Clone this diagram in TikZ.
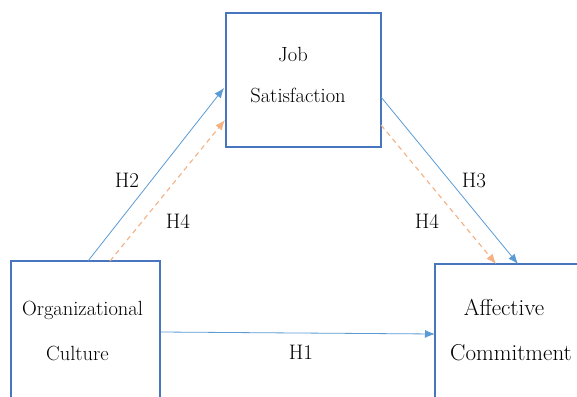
\documentclass[tikz,border=0pt]{standalone}
\usetikzlibrary{arrows.meta}
\definecolor{boxblue}{RGB}{72,118,190}
\definecolor{arrblue}{RGB}{91,155,213}
\definecolor{arrorange}{RGB}{244,177,131}
\definecolor{txt}{RGB}{0,0,0}
\tikzset{
  box/.style={draw=boxblue, line width=1.5pt, inner sep=0pt},
  solidarr/.style={draw=arrblue, line width=0.8pt, -{Latex[length=10pt,width=8pt]}},
  dasharr/.style={draw=arrorange, line width=1.1pt, dash pattern=on 5pt off 4pt, -{Latex[length=10pt,width=8pt]}},
  lbl/.style={font=\rmfamily\fontsize{20.5}{24}\selectfont, text=txt, anchor=base, inner sep=0pt},
  hlbl/.style={font=\rmfamily\fontsize{21}{25}\selectfont, text=txt, anchor=base, inner sep=0pt},
  biglbl/.style={font=\rmfamily\fontsize{23}{27}\selectfont, text=txt, anchor=base, inner sep=0pt}
}
\begin{document}
\begin{tikzpicture}[x=1pt,y=-1pt]
\useasboundingbox (0,0) rectangle (577,396);
\clip (0,0) rectangle (577,396);
\fill[white] (0,0) rectangle (577,396);
% boxes
\node[box, minimum width=155pt, minimum height=134pt] (js) at (303.5,80) {};
\node[box, minimum width=149pt, minimum height=170pt] (oc) at (85.5,346) {};
\node[box, minimum width=170pt, minimum height=170pt] (ac) at (520,349) {};
% texts
\node[lbl] (t1) at (293,61) {Job};
\node[lbl] (t2) at (298,102) {Satisfaction};
\node[lbl] (t3) at (82.5,315) {Organizational};
\node[lbl] (t4) at (77.5,360) {Culture};
\node[biglbl] (t5) at (504,315) {Affective};
\node[biglbl] (t6) at (511,360) {Commitment};
% connector end points
\coordinate (h2s) at (88,261);
\coordinate (h2e) at (224,88);
\coordinate (h4ls) at (110,261);
\coordinate (h4le) at (225,120);
\coordinate (h3s) at (381,97);
\coordinate (h3e) at (518,264);
\coordinate (h4rs) at (381,125);
\coordinate (h4re) at (496,264);
\coordinate (h1s) at (161,332);
\coordinate (h1e) at (435,334);
% arrows
\draw[solidarr] (h2s) -- (h2e);
\draw[dasharr] (h4ls) -- (h4le);
\draw[solidarr] (h3s) -- (h3e);
\draw[dasharr] (h4rs) -- (h4re);
\draw[solidarr] (h1s) -- (h1e);
% labels
\node[hlbl] (l2) at (127,187) {H2};
\node[hlbl] (l4a) at (178,228) {H4};
\node[hlbl] (l3) at (474,187) {H3};
\node[hlbl] (l4b) at (427,228) {H4};
\node[hlbl] (l1) at (301,359) {H1};
\end{tikzpicture}
\end{document}
